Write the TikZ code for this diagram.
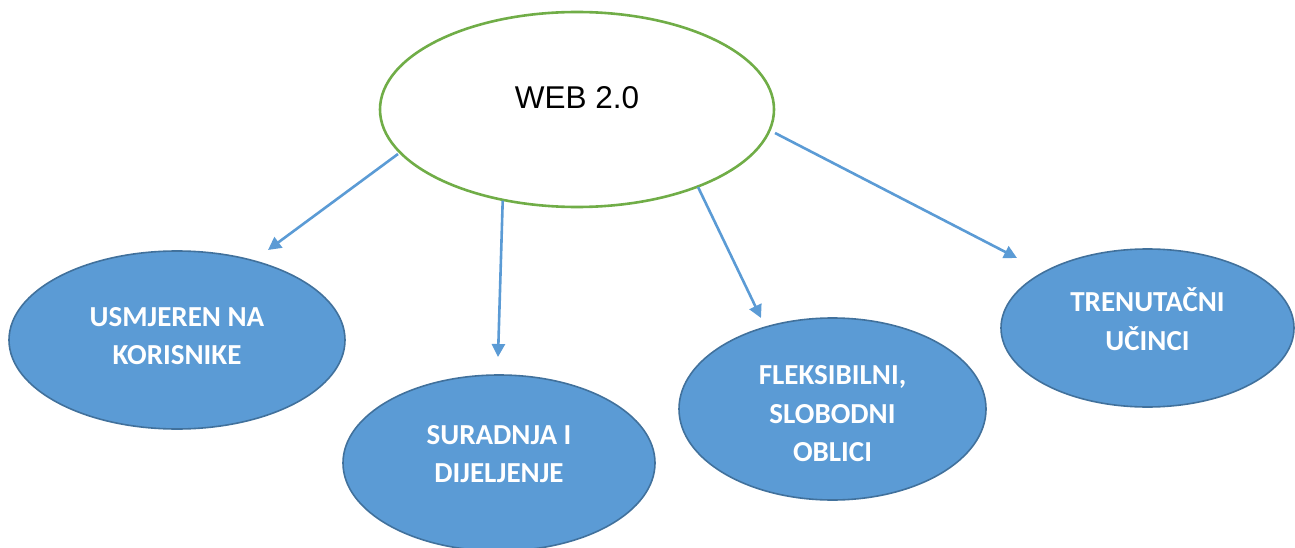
\documentclass[tikz,border=0pt]{standalone}
\usepackage{fontspec}
\newfontfamily\calfont{Carlito}
\newfontfamily\arialfont{Liberation Sans}
\usetikzlibrary{shapes.geometric,arrows.meta}
\definecolor{blfill}{HTML}{5B9BD5}
\definecolor{bldraw}{HTML}{41719C}
\definecolor{grn}{HTML}{70AD47}
\tikzset{
  bubble/.style={ellipse, draw=bldraw, fill=blfill, line width=1.6pt, inner sep=0pt},
  rootell/.style={ellipse, draw=grn, fill=white, line width=2.6pt, inner sep=0pt},
  lbl/.style={font=\calfont\bfseries\fontsize{29}{38.5}\selectfont, text=white, align=center, text height=18.7pt, text depth=0pt, inner sep=0pt},
  rootlbl/.style={font=\arialfont\fontsize{31.5}{36}\selectfont, text=black, text height=22.5pt, text depth=0pt, inner sep=0pt},
  link/.style={draw=blfill, line width=2.6pt, -{Triangle[length=13pt,width=13pt]}}
}
\begin{document}
\begin{tikzpicture}[x=1pt,y=-1pt]
\useasboundingbox (0,0) rectangle (1295,548);
% central
\node[rootell, minimum width=394pt, minimum height=195pt] (top) at (577,109.5) {};
\node[rootlbl] (ttop) at (577,97) {WEB 2.0};
% children
\node[bubble, minimum width=336pt, minimum height=178pt] (e1) at (177,340) {};
\node[lbl] (t1) at (177,355.25) {USMJEREN NA\\KORISNIKE};
\node[bubble, minimum width=312pt, minimum height=176pt] (e2) at (499,463) {};
\node[lbl] (t2) at (499,473.25) {SURADNJA I\\DIJELJENJE};
\node[bubble, minimum width=307pt, minimum height=182pt] (e3) at (832.5,409) {};
\node[lbl] (t3) at (832.5,452.5) {FLEKSIBILNI,\\SLOBODNI\\OBLICI};
\node[bubble, minimum width=293pt, minimum height=158pt] (e4) at (1147.5,328) {};
\node[lbl] (t4) at (1147.5,340.75) {TRENUTAČNI\\UČINCI};
% connector ends
\coordinate (s1) at (398,154);
\coordinate (d1) at (268,250);
\coordinate (s2) at (502.7,200.7);
\coordinate (d2) at (498,357);
\coordinate (s3) at (698,187);
\coordinate (d3) at (761,318);
\coordinate (s4) at (775,133);
\coordinate (d4) at (1017,258);
\draw[link] (s1) -- (d1);
\draw[link] (s2) -- (d2);
\draw[link] (s3) -- (d3);
\draw[link] (s4) -- (d4);
\end{tikzpicture}
\end{document}
